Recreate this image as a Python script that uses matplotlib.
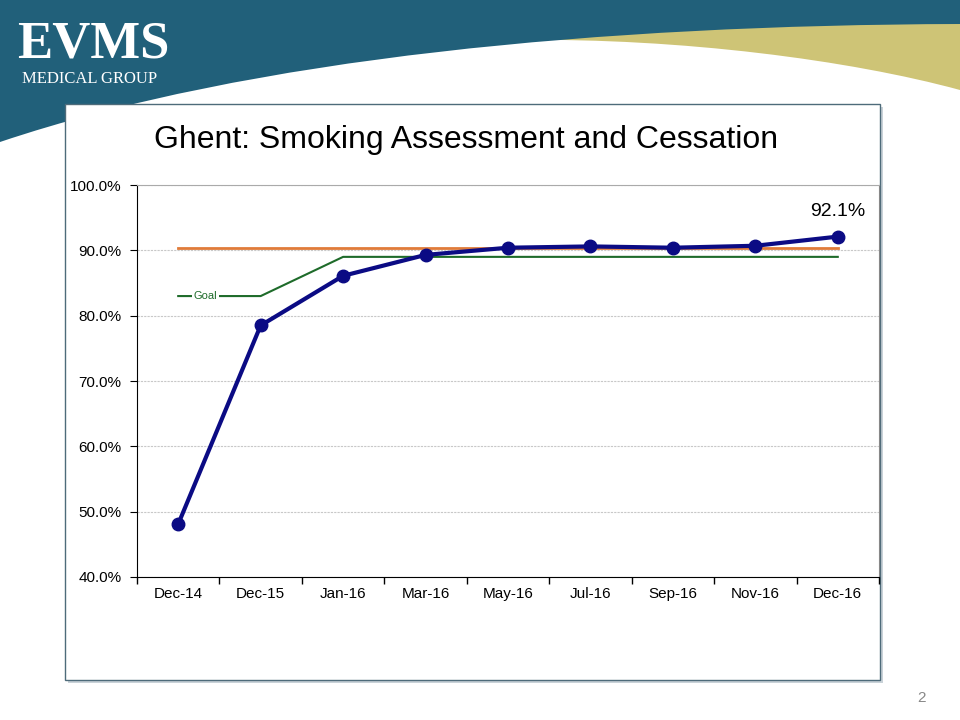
import numpy as np
import matplotlib.pyplot as plt
from matplotlib.path import Path
from matplotlib.patches import PathPatch, Rectangle

months = ["Dec-14", "Dec-15", "Jan-16", "Mar-16", "May-16", "Jul-16", "Sep-16", "Nov-16", "Dec-16"]
rate = [48.1, 78.5, 86.1, 89.3, 90.4, 90.6, 90.4, 90.7, 92.1]
goal = [83.0, 83.0, 89.0, 89.0, 89.0, 89.0, 89.0, 89.0, 89.0]
benchmark = [90.3] * 9

TEAL = "#21607a"
KHAKI = "#cec476"
NAVY = "#0b0b84"

fig = plt.figure(figsize=(9.6, 7.2), dpi=100)

# slide background in pixel coords
bg = fig.add_axes([0, 0, 1, 1], zorder=0)
bg.set_xlim(0, 960)
bg.set_ylim(720, 0)
bg.axis("off")

C = Path.CURVE4
khaki = Path([(960, 90), (850, 60), (680, 38), (520, 40), (520, 0), (960, 0), (960, 90)],
             [Path.MOVETO, C, C, C, Path.LINETO, Path.LINETO, Path.CLOSEPOLY])
bg.add_patch(PathPatch(khaki, fc=KHAKI, ec="none"))
teal = Path([(0, 0), (960, 0), (960, 24), (600, 25), (250, 58), (0, 142), (0, 0)],
            [Path.MOVETO, Path.LINETO, Path.LINETO, C, C, C, Path.CLOSEPOLY])
bg.add_patch(PathPatch(teal, fc=TEAL, ec="none"))

bg.text(17, 58, "EVMS", color="white", fontsize=38, fontweight="bold",
        family="Liberation Serif", va="baseline", ha="left")
bg.text(22, 83, "MEDICAL GROUP", color="white", fontsize=12,
        family="Liberation Serif", va="baseline", ha="left")

# chart box with shadow
bg.add_patch(Rectangle((68, 107), 815, 576, fc="#c9d2d8", ec="none"))
bg.add_patch(Rectangle((65, 104), 815, 576, fc="white", ec="#4e6b7a", lw=1))
bg.text(921, 698, "2", color="#888888", fontsize=11, ha="center", va="center",
        family="Liberation Sans")

fig.text(466 / 960, 1 - 140 / 720, "Ghent: Smoking Assessment and Cessation",
         fontsize=23, family="Liberation Sans", ha="center", va="center")

ax = fig.add_axes([137 / 960, 1 - 577 / 720, 742 / 960, 392 / 720], zorder=2)
ax.set_facecolor("white")
x = np.arange(len(months))

ax.plot(x, benchmark, color="#e07b39", lw=2, zorder=3)
ax.plot(x, goal, color="#1e6b2a", lw=1.5, zorder=3)
ax.plot(x, rate, color=NAVY, lw=3, marker="o", markersize=9, zorder=4)
ax.text(0.33, goal[0], "Goal", color="#1e6b2a", fontsize=8, ha="center", va="center",
        family="Liberation Sans", zorder=5,
        bbox=dict(fc="white", ec="none", pad=1.5))
ax.annotate(f"{rate[-1]:.1f}%", (x[-1], rate[-1]), xytext=(0, 18),
            textcoords="offset points", ha="center", va="center",
            fontsize=14, family="Liberation Sans")

ax.set_xlim(-0.5, len(months) - 0.5)
ax.set_ylim(40, 100)
ax.set_yticks(np.arange(40, 101, 10))
ax.set_yticklabels([f"{v:.1f}%" for v in np.arange(40, 101, 10)])
ax.set_xticks(np.arange(-0.5, len(months)), labels=[])
ax.set_xticks(x, labels=months, minor=True)
ax.tick_params(axis="x", which="major", direction="out", length=5, width=1)
ax.tick_params(axis="x", which="minor", length=0, pad=7)
ax.tick_params(axis="y", direction="out", length=5, pad=6)
for lab in ax.get_xticklabels(minor=True) + ax.get_yticklabels():
    lab.set_family("Liberation Sans")
    lab.set_fontsize(11)
ax.grid(axis="y", color="#c8c8c8", lw=0.8, ls=(0, (2, 1)))
ax.set_axisbelow(True)
ax.spines["top"].set_color("#aaaaaa")
ax.spines["right"].set_color("#888888")
ax.spines["left"].set_color("black")
ax.spines["bottom"].set_color("black")

fig.savefig("out.png", dpi=100)
